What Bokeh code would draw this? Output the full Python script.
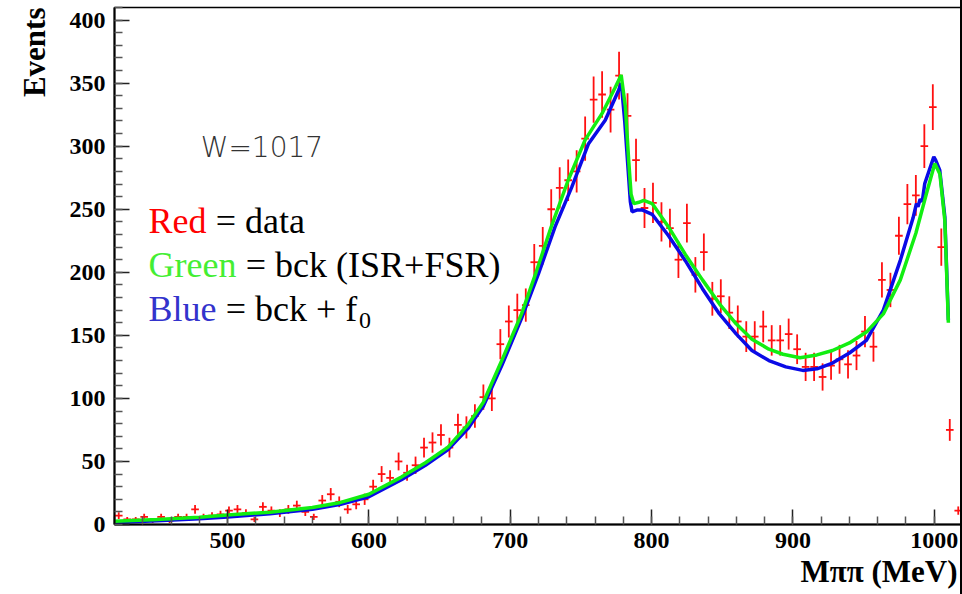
import numpy as np
from bokeh.plotting import figure
from bokeh.models import Label, SingleIntervalTicker, Range1d, ColumnDataSource, Title
from bokeh.embed import file_html
from bokeh.resources import INLINE

# ---------------- data ----------------
bin_centers = [423 + 6 * k for k in range(100)]  # 6 MeV bins from 420 to 1020
counts = [7, 4, 4, 6, 3, 6, 3, 6, 6, 12,
          6, 7, 8, 11, 12, 9, 4, 14, 11, 9,
          12, 15, 10, 6, 19, 24, 18, 12, 16, 20,
          30, 40, 37, 50, 41, 47, 61, 65, 71, 61,
          79, 77, 86, 101, 100, 143, 161, 170, 174, 208,
          221, 250, 267, 273, 280, 306, 337, 341, 329, 356,
          324, 289, 251, 255, 240, 235, 210, 239, 198, 216,
          179, 181, 168, 161, 149, 149, 157, 146, 146, 151,
          139, 125, 125, 117, 126, 131, 127, 134, 153, 141,
          194, 186, 229, 254, 261, 300, 331, 220, 75, 11]
errors = list(np.sqrt(np.array(counts, dtype=float)))

green_x = [420, 450, 480, 500, 530, 560, 580, 600, 623, 640, 656, 670, 681, 694,
           708, 718, 729, 741, 753, 765, 774, 778.5, 781.5, 783.8, 785.5, 787.4,
           791, 794.5, 800.4, 812, 824, 836, 848, 860, 871, 883, 893, 905, 917,
           928, 940, 952, 964, 976, 987, 994.5, 1000.4, 1004, 1007.5, 1010]
green_y = [2.5, 4, 5.8, 7.5, 9.8, 13.5, 17.5, 24, 37.6, 49, 61.4, 79, 97, 130,
           167, 199, 236, 273, 305, 326, 346, 356.5, 331, 289, 262, 254.5,
           255.5, 257, 254.5, 236, 214, 194, 175, 159, 147, 139, 135, 132.3, 134.5,
           138, 144, 152.6, 167, 194, 231, 262.5, 286.3, 278, 241, 160]

blue_x = [420, 450, 480, 500, 530, 560, 580, 600, 623, 640, 656, 670, 681, 694,
          708, 720, 731.7, 743.6, 755.4, 767.2, 776.7, 778.6, 781, 783.5, 785,
          786.2, 790, 793.3, 800.4, 812, 824, 836, 848, 860, 871, 883, 895, 907,
          917, 928, 940, 952, 964, 976, 985, 987.4, 988.5, 990, 991.5, 993.3,
          999.7, 1001, 1003.9, 1007.5, 1010]
blue_y = [1.5, 3, 4.5, 6, 8.5, 12, 16, 22, 35.5, 47, 59.5, 76, 94, 126,
          163.5, 199, 236, 267.7, 302, 320.6, 344.4, 350, 320, 280, 256,
          248, 249.5, 249.5, 246, 229, 209, 187, 167, 151, 138, 130, 125, 122.2,
          123.5, 128, 136, 146, 170, 209.5, 243, 254.5, 252, 258, 256, 270.4,
          291.5, 289, 281, 244, 162]

x_ticks_interval = 100
y_ticks_interval = 50

# ---------------- figure ----------------
p = figure(width=962, height=594, output_backend="svg", toolbar_location=None,
           title=None, x_range=Range1d(420, 1020), y_range=Range1d(0, 410),
           min_border_left=114, min_border_right=0, min_border_top=7,
           min_border_bottom=70)
p.styles = {"border-right": "2px solid black"}
p.background_fill_color = "white"
p.border_fill_color = "white"
p.outline_line_color = "black"
p.outline_line_width = 1.5
p.xgrid.visible = False
p.ygrid.visible = False

for ax, interval in ((p.xaxis[0], x_ticks_interval), (p.yaxis[0], y_ticks_interval)):
    ax.ticker = SingleIntervalTicker(interval=interval, num_minor_ticks=5)
    ax.axis_line_width = 2
    ax.axis_line_color = "black"
    ax.major_tick_in = 15
    ax.major_tick_out = 0
    ax.minor_tick_in = 8
    ax.minor_tick_out = 0
    ax.major_tick_line_width = 1.5
    ax.minor_tick_line_width = 1.5
    ax.major_tick_line_color = "#222222"
    ax.minor_tick_line_color = "#555555"
    ax.major_label_text_font = "Liberation Serif"
    ax.major_label_text_font_style = "bold"
    ax.major_label_text_font_size = "24px"
    ax.major_label_text_color = "black"
p.yaxis[0].major_label_standoff = 9
p.xaxis[0].major_label_standoff = 8

# axis titles (ROOT style: at the far ends)
p.add_layout(Title(text="Events", align="right", vertical_align="top",
                   text_font="Liberation Serif", text_font_style="bold",
                   text_font_size="31px", text_color="black", standoff=26), "left")
p.add_layout(Title(text="M\u03c0\u03c0 (MeV)", align="right", text_font="Liberation Serif",
                   text_font_style="bold", text_font_size="31px", text_color="black",
                   standoff=2, offset=5), "below")

# data crosses
src = ColumnDataSource(dict(
    x=bin_centers, y=counts,
    ylo=[c - e for c, e in zip(counts, errors)],
    yhi=[c + e for c, e in zip(counts, errors)],
    xlo=[b - 2.7 for b in bin_centers], xhi=[b + 2.7 for b in bin_centers]))
p.segment(x0="x", y0="ylo", x1="x", y1="yhi", source=src, line_color="#ff1010", line_width=1.8)
p.segment(x0="xlo", y0="y", x1="xhi", y1="y", source=src, line_color="#ff1010", line_width=1.8)

# model curves
p.line(blue_x, blue_y, line_color="#0a0ae6", line_width=3.5)
p.line(green_x, green_y, line_color="#12ee12", line_width=3.5)

# ---------------- texts ----------------
def px_to_x(px):
    return 420 + (px - 114) / (846 / 600)

def py_to_y(py):
    return (524 - py) / (517 / 410)

def add_label(text, px, py, size, color="black", font="Liberation Serif", style="normal",
              align="left", angle=0.0):
    p.add_layout(Label(x=px_to_x(px), y=py_to_y(py), text=text, text_font=font,
                       text_font_size=size, text_color=color, text_font_style=style,
                       text_align=align, text_baseline="alphabetic", angle=angle))

add_label("W=1017", 200, 147, "28px", color="#333333", font="DejaVu Sans Light")

add_label("Red", 148, 220, "36px", color="#ff0000")
add_label("= data", 215, 220, "36px")
add_label("Green", 148, 264, "36px", color="#44ee33")
add_label("= bck (ISR+FSR)", 245, 264, "36px")
add_label("Blue", 148, 308, "36px", color="#3333cc")
add_label("= bck + f", 225, 308, "36px")
add_label("0", 358, 320, "24px")

open("out.html", "w").write(file_html(p, INLINE))
